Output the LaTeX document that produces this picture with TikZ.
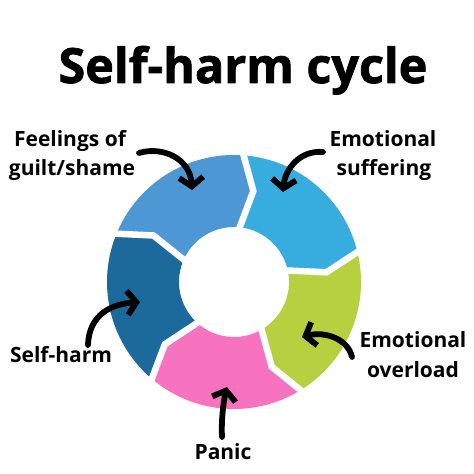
\documentclass[tikz,border=0pt]{standalone}
\usepackage{fontspec}
\setmainfont{Open Sans}
\newfontfamily\titlefont{Open Sans}[BoldFeatures={FakeBold=1.6}]
\usetikzlibrary{arrows.meta}
\definecolor{cMid}{HTML}{4D98D4}
\definecolor{cLight}{HTML}{37ADDF}
\definecolor{cGreen}{HTML}{B7D03F}
\definecolor{cPink}{HTML}{F772BF}
\definecolor{cDark}{HTML}{1C6A9B}
\newcommand\ringseg[2]{%
  \fill[#2] (#1:127pt) arc[start angle=#1, end angle=#1-72, radius=127pt]
    -- (#1-81:93pt) -- (#1-72:55pt)
    arc[start angle=#1-72, end angle=#1, radius=55pt]
    -- (#1-9:93pt) -- cycle;}
\newcommand\ringgap[1]{%
  \draw[gapline] (#1:136pt) -- (#1-9:93pt) -- (#1:46pt);}
\tikzset{
  lbl/.style={font=\bfseries\fontsize{21}{25}\selectfont, anchor=base, inner sep=0pt},
  arr/.style={line width=5.8pt, line cap=round, -{Straight Barb[length=9pt,width=24pt]}},
  gapline/.style={white, line width=6.5pt, line join=miter}
}
\begin{document}
\begin{tikzpicture}[x=1pt,y=1pt]
\fill[white] (0,0) rectangle (474,474);
\useasboundingbox (0,0) rectangle (474,474);
% title
\node[anchor=base, inner sep=0pt, font=\titlefont\bfseries\fontsize{48.5}{52}\selectfont] (title) at (243,391) {Self-harm cycle};
% ring
\begin{scope}[shift={(234,192)}]
  \ringseg{87}{cLight}
  \ringseg{15}{cGreen}
  \ringseg{-57}{cPink}
  \ringseg{-129}{cDark}
  \ringseg{-201}{cMid}
  \ringgap{87}
  \ringgap{15}
  \ringgap{-57}
  \ringgap{-129}
  \ringgap{-201}
\end{scope}
% labels
\node[lbl] (guiltA) at (70,327) {Feelings of};
\node[lbl] (guiltB) at (72,298) {guilt/shame};
\node[lbl] (suffA) at (383,327) {Emotional};
\node[lbl] (suffB) at (384,298) {suffering};
\node[lbl] (selfh) at (61,111) {Self-harm};
\node[lbl] (overA) at (413,126) {Emotional};
\node[lbl] (overB) at (413,96) {overload};
\node[lbl] (panic) at (223,14) {Panic};
% arrow ends
\coordinate (g1) at (139,321);
\coordinate (g2) at (192,284);
\coordinate (s1) at (323,322);
\coordinate (s2) at (283,282);
\coordinate (h1) at (88,129);
\coordinate (h2) at (140,172);
\coordinate (o1) at (352,117);
\coordinate (o2) at (302,137);
\coordinate (p1) at (222,37);
\coordinate (p2) at (227,87);
\draw[arr] (g1) .. controls (162,328) and (190,316) .. (g2);
\draw[arr] (s1) .. controls (300,324) and (285,305) .. (s2);
\draw[arr] (h1) .. controls (89,160) and (112,170) .. (h2);
\draw[arr] (o1) .. controls (348,135) and (325,143) .. (o2);
\draw[arr] (p1) .. controls (221,55) and (224,75) .. (p2);
\end{tikzpicture}
\end{document}
